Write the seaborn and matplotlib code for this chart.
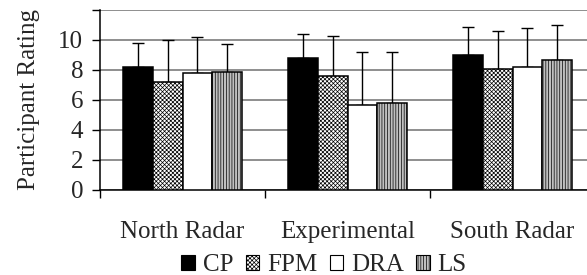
import numpy as np
import pandas as pd
import matplotlib
matplotlib.use("Agg")
import matplotlib.pyplot as plt
import seaborn as sns

# data
sites = ["North Radar", "Experimental", "South Radar"]
methods = ["CP", "FPM", "DRA", "LS"]
cp = [8.2, 8.8, 9.0]
fpm = [7.2, 7.6, 8.1]
dra = [7.8, 5.7, 8.2]
ls = [7.9, 5.8, 8.7]
cp_err = [1.6, 1.6, 1.9]
fpm_err = [2.8, 2.7, 2.5]
dra_err = [2.4, 3.5, 2.6]
ls_err = [1.8, 3.4, 2.3]

means = {"CP": cp, "FPM": fpm, "DRA": dra, "LS": ls}
errs = {"CP": cp_err, "FPM": fpm_err, "DRA": dra_err, "LS": ls_err}

rows = []
for m in methods:
    for i, s in enumerate(sites):
        rows.append({"Site": s, "Method": m, "Rating": means[m][i], "Err": errs[m][i]})
df = pd.DataFrame(rows)

sns.set_style("white")
plt.rcParams["font.family"] = ["Liberation Serif", "DejaVu Serif"]
plt.rcParams["hatch.linewidth"] = 0.5
fs = 18

fig = plt.figure(figsize=(5.87, 2.75), dpi=100)
ax = fig.add_axes([100 / 587, 85 / 275, 495 / 587, 180 / 275])

styles = {
    "CP": dict(facecolor="black", hatch=None),
    "FPM": dict(facecolor="white", hatch="xxxxxxxx"),
    "DRA": dict(facecolor="white", hatch=None),
    "LS": dict(facecolor="#c0c0c0", hatch="||||||"),
}

sns.barplot(data=df, x="Site", y="Rating", hue="Method", order=sites,
            hue_order=methods, errorbar=None, width=0.727, ax=ax,
            edgecolor="black", linewidth=1.1, legend=False, zorder=3)

for m, cont in zip(methods, ax.containers):
    for bar in cont:
        bar.set_facecolor(styles[m]["facecolor"])
        bar.set_edgecolor("black")
        if styles[m]["hatch"]:
            bar.set_hatch(styles[m]["hatch"])
    xs = [b.get_x() + b.get_width() / 2 for b in cont]
    ys = [b.get_height() for b in cont]
    ax.errorbar(xs, ys, yerr=[np.zeros(len(ys)), errs[m]], fmt="none",
                ecolor="black", elinewidth=1.0, capsize=4.3, capthick=1.0,
                zorder=2)

ax.set_ylim(0, 12)
ax.set_xlim(-0.5, 2.5)
ax.set_yticks(range(0, 13, 2))
ax.set_yticklabels([str(v) for v in range(0, 11, 2)] + [""])
ax.yaxis.grid(True, color="#707070", linewidth=1.1, zorder=0)
ax.set_axisbelow(True)

ax.set_xticks([0, 1, 2])
ax.set_xticklabels(sites)
ax.set_xticks([-0.5, 0.5, 1.5, 2.5], minor=True)
ax.tick_params(axis="x", which="major", length=0, pad=22, labelsize=fs)
ax.tick_params(axis="x", which="minor", length=6, width=1, color="black",
               direction="out", bottom=True)
ax.tick_params(axis="y", length=6, width=1, color="black", direction="out",
               left=True, pad=6, labelsize=fs)

ax.set_xlabel("")
ax.set_ylabel("Participant Rating", fontsize=fs, labelpad=13)

for side in ["top", "right"]:
    ax.spines[side].set_visible(False)
ax.spines["left"].set_color("black")
ax.spines["bottom"].set_color("black")
ax.spines["left"].set_linewidth(1.1)
ax.spines["bottom"].set_linewidth(1.1)

handles = [plt.Rectangle((0, 0), 1, 1, facecolor=styles[m]["facecolor"],
                         edgecolor="black", hatch=styles[m]["hatch"], linewidth=0.8)
           for m in methods]
fig.legend(handles, methods, loc="center", bbox_to_anchor=(324 / 587, 1 - 265 / 275),
           ncol=4, frameon=False, fontsize=fs, handlelength=0.55, handleheight=0.55,
           handletextpad=0.3, columnspacing=0.5, borderpad=0)

fig.savefig("out.png", dpi=100)
